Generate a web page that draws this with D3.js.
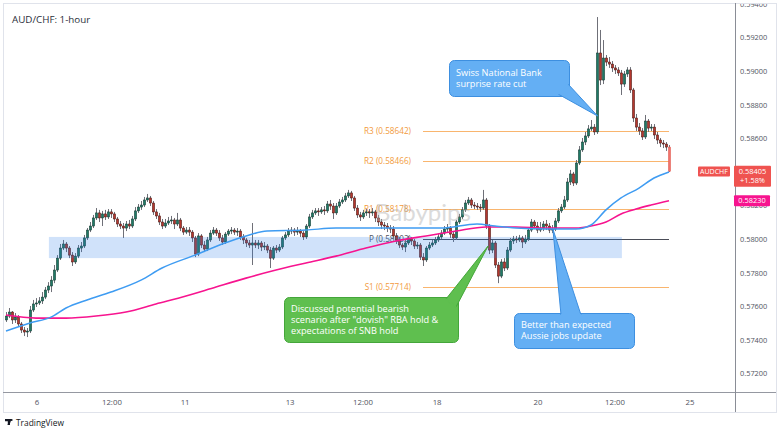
<!DOCTYPE html>
<html><head><meta charset="utf-8">
<script src="https://cdn.jsdelivr.net/npm/d3@7"></script>
<style>body{margin:0;background:#fff;}svg{display:block;font-family:"Open Sans",sans-serif;}</style>
</head><body><svg id="c" width="780" height="437"></svg>
<script>
// ---------- DATA ----------
const title = "AUD/CHF: 1-hour";
const symbol = "AUDCHF";
const firstOpen = 0.57520;
const close = [
0.57543,0.57567,0.57520,0.57537,0.57496,0.57460,0.57448,0.57454,0.57579,0.57615,
0.57621,0.57633,0.57656,0.57698,0.57722,0.57757,0.57817,0.57888,0.57948,0.57972,
0.57948,0.57906,0.57865,0.57900,0.57948,0.57960,0.58008,0.58055,0.58079,0.58127,
0.58157,0.58127,0.58151,0.58133,0.58163,0.58151,0.58121,0.58091,0.58079,0.58067,
0.58091,0.58079,0.58121,0.58169,0.58192,0.58204,0.58234,0.58246,0.58216,0.58163,
0.58139,0.58103,0.58079,0.58097,0.58109,0.58115,0.58091,0.58115,0.58067,0.58043,
0.58055,0.58043,0.58008,0.57912,0.58020,0.57966,0.57942,0.57996,0.58037,0.58055,
0.58037,0.58008,0.57984,0.58031,0.58049,0.58055,0.58043,0.58049,0.58014,0.57996,
0.57978,0.57966,0.57978,0.57966,0.57978,0.57954,0.57960,0.57936,0.57888,0.57948,
0.57936,0.57954,0.58008,0.58026,0.58049,0.58055,0.58043,0.58049,0.58037,0.58014,
0.58079,0.58133,0.58157,0.58169,0.58163,0.58175,0.58169,0.58210,0.58198,0.58157,
0.58198,0.58222,0.58234,0.58258,0.58276,0.58246,0.58186,0.58145,0.58133,0.58157,
0.58163,0.58157,0.58163,0.58127,0.58103,0.58085,0.58079,0.58067,0.58061,0.58020,
0.57996,0.57966,0.57954,0.57978,0.58002,0.57990,0.57960,0.57966,0.57894,0.57877,
0.57948,0.57966,0.57978,0.57996,0.58014,0.58037,0.58061,0.58067,0.58031,0.58008,
0.58103,0.58133,0.58175,0.58216,0.58234,0.58204,0.58198,0.58192,0.58186,0.58234,
0.58079,0.57936,0.57978,0.57847,0.57781,0.57865,0.57829,0.57936,0.57990,0.58002,
0.57996,0.58008,0.57984,0.58002,0.58055,0.58103,0.58079,0.58055,0.58067,0.58091,
0.58079,0.58055,0.58061,0.58109,0.58169,0.58192,0.58234,0.58341,0.58389,0.58335,
0.58454,0.58532,0.58579,0.58615,0.58657,0.58668,0.58639,0.59109,0.58948,0.59079,
0.59055,0.59043,0.59020,0.59008,0.58990,0.58924,0.58984,0.59008,0.58889,0.58722,
0.58668,0.58645,0.58609,0.58704,0.58662,0.58668,0.58621,0.58591,0.58573,0.58567,
0.58549,0.58405];
const high = [
0.57567,0.57591,0.57573,0.57561,0.57549,0.57508,0.57478,0.57472,0.57603,0.57639,
0.57650,0.57656,0.57686,0.57716,0.57745,0.57781,0.57847,0.57906,0.57972,0.57996,
0.57984,0.57960,0.57924,0.57918,0.57966,0.57984,0.58026,0.58067,0.58103,0.58145,
0.58186,0.58175,0.58169,0.58175,0.58180,0.58180,0.58163,0.58133,0.58109,0.58097,
0.58109,0.58115,0.58139,0.58192,0.58210,0.58228,0.58252,0.58270,0.58258,0.58228,
0.58180,0.58157,0.58121,0.58121,0.58133,0.58139,0.58127,0.58157,0.58127,0.58079,
0.58073,0.58073,0.58055,0.58020,0.58037,0.58031,0.57990,0.58014,0.58055,0.58073,
0.58067,0.58055,0.58026,0.58043,0.58061,0.58073,0.58067,0.58067,0.58061,0.58031,
0.58008,0.57996,0.58097,0.57996,0.57996,0.57990,0.57984,0.57972,0.57954,0.57960,
0.57966,0.57972,0.58020,0.58043,0.58067,0.58073,0.58067,0.58073,0.58061,0.58049,
0.58091,0.58151,0.58175,0.58186,0.58186,0.58192,0.58198,0.58228,0.58234,0.58216,
0.58216,0.58240,0.58252,0.58276,0.58294,0.58288,0.58258,0.58204,0.58163,0.58175,
0.58180,0.58180,0.58186,0.58175,0.58145,0.58121,0.58103,0.58097,0.58085,0.58079,
0.58037,0.58014,0.57978,0.57996,0.58020,0.58014,0.58002,0.57984,0.57978,0.57918,
0.57960,0.57984,0.57996,0.58014,0.58031,0.58055,0.58079,0.58091,0.58079,0.58049,
0.58115,0.58151,0.58192,0.58234,0.58252,0.58246,0.58222,0.58216,0.58210,0.58294,
0.58246,0.58091,0.57996,0.57990,0.57865,0.57882,0.57888,0.57954,0.58008,0.58020,
0.58020,0.58026,0.58020,0.58026,0.58073,0.58121,0.58115,0.58103,0.58103,0.58109,
0.58115,0.58097,0.58085,0.58127,0.58186,0.58210,0.58258,0.58365,0.58413,0.58401,
0.58472,0.58555,0.58603,0.58639,0.58680,0.58710,0.58686,0.59323,0.59246,0.59186,
0.59097,0.59085,0.59061,0.59037,0.59025,0.59008,0.59002,0.59025,0.59025,0.58901,
0.58746,0.58692,0.58662,0.58740,0.58716,0.58686,0.58686,0.58639,0.58603,0.58591,
0.58579,0.58561];
const low = [
0.57508,0.57531,0.57496,0.57502,0.57478,0.57442,0.57424,0.57418,0.57442,0.57567,
0.57597,0.57609,0.57615,0.57644,0.57680,0.57686,0.57739,0.57805,0.57877,0.57936,
0.57924,0.57888,0.57841,0.57853,0.57888,0.57924,0.57948,0.57996,0.58043,0.58067,
0.58115,0.58103,0.58079,0.58115,0.58121,0.58127,0.58103,0.58073,0.58061,0.58008,
0.58049,0.58061,0.58067,0.58109,0.58157,0.58175,0.58192,0.58222,0.58198,0.58145,
0.58121,0.58085,0.58061,0.58067,0.58085,0.58091,0.58061,0.58079,0.58049,0.58026,
0.58031,0.58020,0.57984,0.57894,0.57900,0.57948,0.57924,0.57930,0.57984,0.58026,
0.58020,0.57990,0.57966,0.57972,0.58020,0.58031,0.58026,0.58020,0.57996,0.57972,
0.57954,0.57948,0.57847,0.57948,0.57942,0.57930,0.57936,0.57918,0.57829,0.57877,
0.57918,0.57924,0.57942,0.57996,0.58014,0.58031,0.58020,0.58026,0.58014,0.57996,
0.58002,0.58067,0.58121,0.58145,0.58139,0.58151,0.58145,0.58157,0.58175,0.58121,
0.58145,0.58186,0.58210,0.58222,0.58246,0.58228,0.58169,0.58127,0.58109,0.58121,
0.58139,0.58127,0.58139,0.58103,0.58079,0.58061,0.58055,0.58043,0.58037,0.58002,
0.57972,0.57948,0.57936,0.57924,0.57966,0.57966,0.57942,0.57942,0.57877,0.57841,
0.57865,0.57936,0.57954,0.57966,0.57984,0.58002,0.58026,0.58043,0.58008,0.57984,
0.57996,0.58091,0.58121,0.58163,0.58204,0.58186,0.58180,0.58175,0.58163,0.58175,
0.58061,0.57912,0.57918,0.57829,0.57739,0.57769,0.57811,0.57817,0.57924,0.57972,
0.57978,0.57984,0.57948,0.57972,0.57990,0.58043,0.58061,0.58037,0.58043,0.58049,
0.58055,0.58037,0.58037,0.58049,0.58097,0.58157,0.58180,0.58222,0.58323,0.58317,
0.58323,0.58442,0.58520,0.58561,0.58603,0.58645,0.58621,0.58627,0.58918,0.58924,
0.59031,0.59020,0.58996,0.58984,0.58972,0.58859,0.58907,0.58966,0.58871,0.58698,
0.58645,0.58621,0.58591,0.58597,0.58639,0.58645,0.58597,0.58567,0.58549,0.58543,
0.58526,0.58401];

// moving averages, read at sample candles (candle index, value)
const maFastIdx = [0,8,15,20,27,35,45,52,63,73,80,87,100,110,130,145,157,163,170,180,190,195,200,205,211,216,221];
const maFastVal = [0.57454,0.57502,0.57537,0.57591,0.57639,0.57686,0.57757,0.57829,0.57906,0.57978,0.58020,0.58049,0.58055,0.58067,0.58067,0.58067,0.58091,0.58079,0.58067,0.58061,0.58061,0.58085,0.58175,0.58246,0.58305,0.58365,0.58401];
const maSlowIdx = [0,10,20,30,40,50,60,70,80,90,100,110,120,130,140,150,160,170,180,190,195,200,205,210,215,221];
const maSlowVal = [0.57549,0.57531,0.57531,0.57543,0.57567,0.57615,0.57662,0.57716,0.57769,0.57817,0.57859,0.57900,0.57948,0.57990,0.58020,0.58049,0.58073,0.58073,0.58067,0.58067,0.58079,0.58103,0.58151,0.58180,0.58204,0.58230];

const priceTicks = [0.572,0.574,0.576,0.578,0.580,0.582,0.584,0.586,0.588,0.590,0.592,0.594];
const timeTickLabels = ["6","12:00","11","13","12:00","18","20","12:00","25"];
const timeTickIdx = [10.3,35.3,59.7,94.7,119,143.7,177.3,203,228];

const pivotNames = ["R3","R2","R1","P","S1"];
const pivotValues = [0.58642,0.58466,0.58178,0.58002,0.57714];
const pivotFromIdx = 139;

const zoneIdx = [14.3, 205.3];
const zonePrice = [0.57888, 0.58014];

const lastPrice = 0.58405, lastChange = "+1.58%", slowLast = 0.58230;

const noteSNB = ["Swiss National Bank","surprise rate cut"];
const noteRBA = ["Discussed potential bearish","scenario after \"dovish\" RBA hold &","expectations of SNB hold"];
const noteJobs = ["Better than expected","Aussie jobs update"];
const noteSNBAt = [197.2, 0.58734];
const noteRBAAt = [160.7, 0.57960];
const noteJobsAt = [182.3, 0.58061];

// ---------- CHART ----------
const svg = d3.select("#c");
const N = close.length;
const x = d3.scaleLinear().domain([0, N - 1]).range([6, 669]);
const y = d3.scaleLinear().domain([0.572, 0.594]).range([373.7, 4.1]);

const candles = close.map((c, i) => {
  const o = i === 0 ? firstOpen : close[i - 1];
  return {i, o, c, h: Math.max(high[i], o, c), l: Math.min(low[i], o, c)};
});

// frame
svg.append("rect").attr("x",3.5).attr("y",3.5).attr("width",773).attr("height",409)
  .attr("fill","#fff").attr("stroke","#e0e3eb");

svg.append("defs").append("clipPath").attr("id","plot")
  .append("rect").attr("x",4).attr("y",4).attr("width",731).attr("height",388);
svg.select("defs").append("clipPath").attr("id","axisclip")
  .append("rect").attr("x",735).attr("y",4).attr("width",41).attr("height",388);

const plot = svg.append("g").attr("clip-path","url(#plot)");

// title
svg.append("text").attr("x",12).attr("y",23).attr("font-size",9.8).attr("fill","#2a2e39").text(title);

// pivot lines
pivotValues.forEach((v, k) => {
  const isP = pivotNames[k] === "P";
  plot.append("rect").attr("x",x(pivotFromIdx)).attr("width",x(N-1)-x(pivotFromIdx))
    .attr("y",Math.round(y(v))).attr("height",1)
    .attr("fill", isP ? "#4a4d57" : "#f7a24a").attr("opacity", isP ? 1 : 0.8);
  plot.append("text").attr("x",x(pivotFromIdx)-12).attr("y",y(v)+3)
    .attr("text-anchor","end").attr("font-size",8.2)
    .attr("fill", isP ? "#50535e" : "#f29a3c")
    .text(`${pivotNames[k]} (${v.toFixed(5)})`);
});

// candles
const cg = plot.append("g");
cg.selectAll("line.w").data(candles).join("line").attr("class","w")
  .attr("x1",d=>Math.round(x(d.i))+0.5).attr("x2",d=>Math.round(x(d.i))+0.5)
  .attr("y1",d=>y(d.h)).attr("y2",d=>y(d.l))
  .attr("stroke","#6f7078").attr("stroke-width",1);
cg.selectAll("rect.b").data(candles).join("rect").attr("class","b")
  .attr("x",d=>Math.round(x(d.i))-0.6).attr("width",2.2)
  .attr("y",d=>y(Math.max(d.o,d.c)))
  .attr("height",d=>Math.max(1, y(Math.min(d.o,d.c)) - y(Math.max(d.o,d.c))))
  .attr("fill",d=> d.i===N-1 ? "#f0736b" : (d.c>=d.o ? "#1f7a66" : "#b5372e"))
  .attr("stroke",d=> d.i===N-1 ? "#e05a52" : (d.c>=d.o ? "#0f3029" : "#3d100c"))
  .attr("stroke-width",0.5);

// zone band
plot.append("rect").attr("x",x(zoneIdx[0])).attr("width",x(zoneIdx[1])-x(zoneIdx[0]))
  .attr("y",y(zonePrice[1])).attr("height",y(zonePrice[0])-y(zonePrice[1]))
  .attr("fill","rgba(41,121,230,0.22)");

// moving averages
const line = d3.line().x(d=>x(d[0])).y(d=>y(d[1])).curve(d3.curveMonotoneX);
plot.append("path").datum(maSlowIdx.map((k,j)=>[k,maSlowVal[j]])).attr("d",line)
  .attr("fill","none").attr("stroke","#f7148f").attr("stroke-width",1.6);
plot.append("path").datum(maFastIdx.map((k,j)=>[k,maFastVal[j]])).attr("d",line)
  .attr("fill","none").attr("stroke","#3f9cf2").attr("stroke-width",1.5);

// watermark
plot.append("text").attr("x",375).attr("y",221).attr("font-size",24).attr("font-family","Lato, sans-serif")
  .attr("fill","#b0b0b0").attr("opacity",0.45).text("Babypips");

// axes lines
svg.append("line").attr("x1",3).attr("x2",776).attr("y1",392.5).attr("y2",392.5).attr("stroke","#9598a1");
svg.append("line").attr("x1",735.5).attr("x2",735.5).attr("y1",3).attr("y2",412).attr("stroke","#8a8d96");

// price axis labels
const ax = svg.append("g").attr("clip-path","url(#axisclip)");
ax.selectAll("text").data(priceTicks).join("text")
  .attr("x",740).attr("y",d=>y(d)+2.7).attr("font-size",7.4).attr("fill","#50535e")
  .text(d=>d.toFixed(5));

// time axis labels
svg.selectAll("text.t").data(timeTickLabels).join("text").attr("class","t")
  .attr("x",(d,i)=>x(timeTickIdx[i])).attr("y",405).attr("text-anchor","middle")
  .attr("font-size",7.8).attr("fill","#50535e").text(d=>d);

// price tags
const yl = y(lastPrice);
svg.append("rect").attr("x",698).attr("y",yl-4.8).attr("width",32).attr("height",10).attr("rx",1).attr("fill","#ef5350");
svg.append("text").attr("x",714).attr("y",yl+2.5).attr("text-anchor","middle").attr("font-size",7).attr("fill","#fff").text(symbol);
svg.append("rect").attr("x",734).attr("y",yl-5.5).attr("width",37).attr("height",21).attr("rx",1).attr("fill","#ef5350");
svg.append("text").attr("x",752.5).attr("y",yl+2.6).attr("text-anchor","middle").attr("font-size",7.4).attr("fill","#fff").text(lastPrice.toFixed(5));
svg.append("text").attr("x",752.5).attr("y",yl+12).attr("text-anchor","middle").attr("font-size",7.4).attr("fill","#fff").text(lastChange);
const ys = y(slowLast);
svg.append("rect").attr("x",734).attr("y",ys-5.5).attr("width",36).attr("height",11).attr("rx",1).attr("fill","#f7148f");
svg.append("text").attr("x",752).attr("y",ys+2.6).attr("text-anchor","middle").attr("font-size",7.4).attr("fill","#fff").text(slowLast.toFixed(5));

// callouts
function callout(box, base, tipAt, lines, fill, stroke, tx, ty0) {
  const tip = [x(tipAt[0]), y(tipAt[1])];
  const g = svg.append("g");
  g.append("rect").attr("x",box[0]+0.5).attr("y",box[1]+0.5).attr("width",box[2]).attr("height",box[3])
    .attr("rx",5).attr("fill",fill).attr("stroke",stroke);
  g.append("path").attr("d",`M${base[0][0]},${base[0][1]}L${tip[0]},${tip[1]}L${base[1][0]},${base[1][1]}Z`)
    .attr("fill",fill).attr("stroke",stroke).attr("stroke-linejoin","round");
  g.append("path").attr("d",`M${base[0][0]},${base[0][1]}L${base[1][0]},${base[1][1]}`).attr("stroke",fill).attr("stroke-width",2);
  lines.forEach((t,i)=>g.append("text").attr("x",tx).attr("y",ty0+i*11.2)
    .attr("font-size",9.2).attr("fill","#fff").text(t));
}
callout([449,60,120,36],[[558,94],[568,84]],noteSNBAt,noteSNB,"#64aff4","#3d8fe0",456,76);
callout([284,297,174,45],[[446,299],[456,307]],noteRBAAt,noteRBA,"#5fbf4f","#44a63a",291,311.5);
callout([514,313,120,35],[[561,315],[581,315]],noteJobsAt,noteJobs,"#64aff4","#3d8fe0",521,328);

// TradingView logo
const lg = svg.append("g").attr("fill","#131722");
lg.append("path").attr("d","M5,419h5v6h-2.2v-3.8H5zM9.6,419h2l-2.2,6h-2z");
lg.append("circle").attr("cx",11.6).attr("cy",420).attr("r",1);
svg.append("text").attr("x",16).attr("y",425.5).attr("font-size",8.4).attr("fill","#131722").text("TradingView");
</script></body></html>
